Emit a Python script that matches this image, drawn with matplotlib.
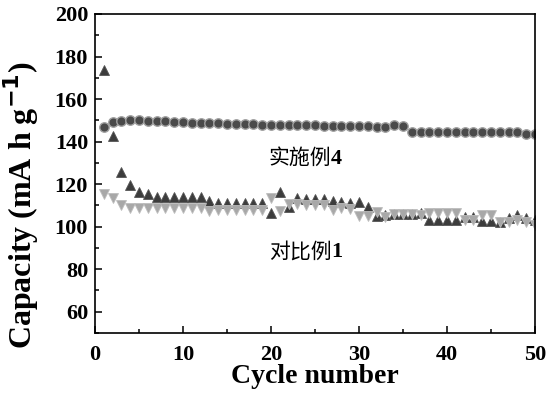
import matplotlib
matplotlib.use("Agg")
import matplotlib.pyplot as plt
from matplotlib.ticker import MultipleLocator

# 循环次数
cycles = list(range(1, 51))

# 实施例4 (圆点)
cap_ex4 = [147.0, 149.0, 149.7, 150.0, 150.0, 149.7, 149.6, 149.5, 149.2, 149.0,
           148.9, 148.8, 148.7, 148.6, 148.5, 148.4, 148.2, 148.1, 148.0, 148.0,
           147.9, 147.8, 147.7, 147.6, 147.6, 147.5, 147.4, 147.3, 147.2, 147.1,
           147.1, 147.0, 147.0, 147.8, 147.4, 144.6, 144.6, 144.7, 144.6, 144.6,
           144.7, 144.6, 144.6, 144.5, 144.5, 144.4, 144.4, 144.3, 143.4, 143.4]

# 对比例1 (两组三角形)
cap_up = [173.5, 142.4, 125.8, 119.6, 116.1, 115.2, 114.1, 114.1, 114.1, 114.1,
          114.1, 114.1, 112.0, 111.2, 111.2, 111.2, 111.2, 111.2, 111.2, 106.5,
          116.4, 109.1, 113.3, 113.0, 113.0, 113.0, 112.2, 111.5, 111.0, 111.5,
          109.4, 105.1, 105.3, 106.0, 105.8, 105.8, 106.2, 103.1, 103.1, 103.1,
          103.1, 104.7, 104.7, 102.6, 102.6, 102.3, 104.0, 105.3, 104.0, 103.0]
cap_down = [115.3, 113.3, 110.2, 108.6, 108.6, 108.6, 108.6, 108.6, 108.6, 108.6,
            108.6, 108.6, 107.3, 107.8, 107.8, 107.8, 107.8, 107.8, 107.8, 113.3,
            107.5, 110.5, 110.5, 110.2, 110.2, 110.0, 108.0, 109.0, 108.5, 105.1,
            105.1, 107.0, 104.6, 105.8, 105.8, 105.8, 105.5, 106.2, 106.2, 106.2,
            106.2, 103.0, 103.0, 105.3, 105.3, 102.0, 102.0, 103.0, 102.0, 101.0]

plt.rcParams['font.family'] = ['Liberation Serif', 'Noto Sans CJK SC']

fig = plt.figure(figsize=(5.49, 3.95), dpi=100)
ax = fig.add_axes([0.173, 0.157, 0.8015, 0.8076])

ax.plot(cycles, cap_up, linestyle='none', marker='^', markersize=6.5,
        markerfacecolor='#3c3c3c', markeredgecolor='#555555', markeredgewidth=0.6)
ax.plot(cycles, cap_down, linestyle='none', marker='v', markersize=6.5,
        markerfacecolor='#a8a8a8', markeredgecolor='#bdbdbd', markeredgewidth=0.6)
ax.plot(cycles, cap_ex4, linestyle='none', marker='o', markersize=6.8,
        markerfacecolor='#4a4a4a', markeredgecolor='#a0a0a0', markeredgewidth=1.0)

# 标注
ax.text(26.8, 132.3, '实施例', fontsize=15, ha='right', va='center',
        family=['Noto Sans CJK SC'])
ax.text(26.8, 132.0, '4', fontsize=16, fontweight='bold', ha='left', va='center')
ax.text(26.9, 88.3, '对比例', fontsize=15, ha='right', va='center',
        family=['Noto Sans CJK SC'])
ax.text(26.9, 88.0, '1', fontsize=16, fontweight='bold', ha='left', va='center')

ax.set_xlim(0, 50)
ax.set_ylim(50, 200)
ax.xaxis.set_major_locator(MultipleLocator(10))
ax.xaxis.set_minor_locator(MultipleLocator(5))
ax.yaxis.set_major_locator(MultipleLocator(20))
ax.yaxis.set_minor_locator(MultipleLocator(10))
ax.tick_params(which='both', direction='in', width=1.1, top=False, right=False,
               labelsize=16)
ax.tick_params(which='major', length=5)
ax.tick_params(which='minor', length=3)
ax.tick_params(axis='x', which='major', pad=9)
ax.tick_params(axis='y', which='major', pad=5)
for lbl in ax.get_xticklabels() + ax.get_yticklabels():
    lbl.set_fontweight('bold')
for sp in ax.spines.values():
    sp.set_linewidth(1.2)

ax.set_xlabel('Cycle number', fontsize=20, fontweight='bold')
ax.xaxis.set_label_coords(0.5, -0.135)
ax.xaxis.label.set_va('center')
ax.set_ylabel('Capacity (mA h g$^{\\mathbf{-1}}$)', fontsize=23, fontweight='bold')
ax.yaxis.set_label_coords(-0.168, 0.40)
ax.yaxis.label.set_va('center')
ax.yaxis.label.set_ha('center')

fig.savefig('out.png', dpi=100)
